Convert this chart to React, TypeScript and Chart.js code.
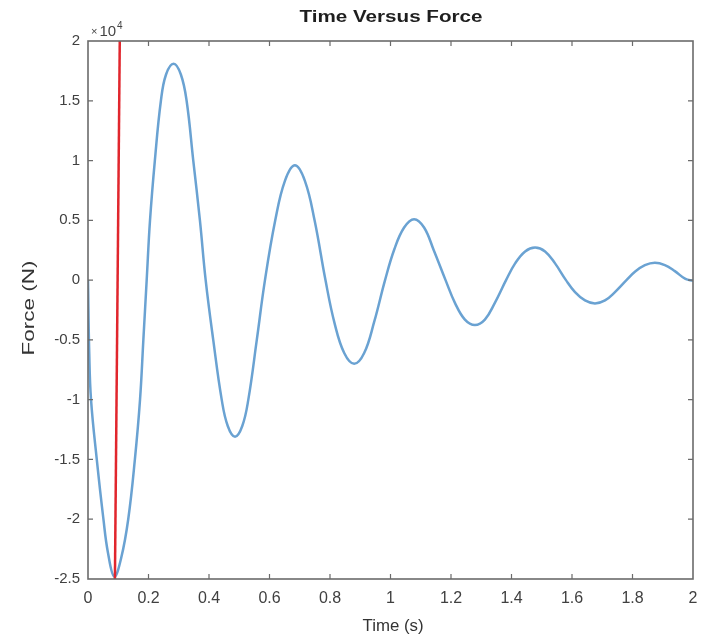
import React, { useEffect, useRef } from "react";
import { Chart, registerables } from "chart.js";

Chart.register(...registerables);

// Time (s) samples
const times = [
  0, 0.004, 0.010, 0.029, 0.051, 0.066, 0.087,
  0.110, 0.133, 0.155, 0.172, 0.183, 0.194,
  0.205, 0.221, 0.241, 0.258, 0.283, 0.307, 0.326, 0.348, 0.370, 0.389,
  0.414, 0.442, 0.462, 0.486, 0.510, 0.530, 0.558, 0.585,
  0.619, 0.651, 0.684, 0.717, 0.749, 0.785,
  0.815, 0.847, 0.880, 0.913, 0.946, 0.982,
  1.013, 1.045, 1.078, 1.111, 1.143, 1.182,
  1.213, 1.246, 1.279, 1.312, 1.345, 1.382,
  1.412, 1.445, 1.478, 1.511, 1.544, 1.580,
  1.610, 1.643, 1.676, 1.709, 1.742, 1.780,
  1.808, 1.841, 1.874, 1.907, 1.940, 1.975, 2.0,
];

// Force (N)
const forceN = [
  0, -6000, -10000, -15000, -20000, -22800, -24800,
  -23200, -20000, -15000, -10000, -5000, 0,
  5000, 10000, 15000, 17200, 18100, 17200, 15000, 10000, 5000, 0,
  -5000, -10000, -12200, -13100, -12200, -10000, -5000, 0,
  5000, 8300, 9600, 8300, 5000, 0,
  -3600, -6100, -7000, -6100, -3500, 0,
  2600, 4400, 5100, 4400, 2500, 0,
  -1900, -3300, -3750, -3300, -1900, 0,
  1400, 2400, 2730, 2400, 1400, 0,
  -1000, -1700, -1950, -1700, -1000, 0,
  700, 1250, 1450, 1250, 750, 100, -50,
];

// Red marker line
const markerTimes = [0.089, 0.105];
const markerForce = [-25000, 20000];

const xTicks = [0, 0.2, 0.4, 0.6, 0.8, 1, 1.2, 1.4, 1.6, 1.8, 2];
const yTicks = [-25000, -20000, -15000, -10000, -5000, 0, 5000, 10000, 15000, 20000];

const titleText = "Time Versus Force";
const xTitle = "Time (s)";
const yTitle = "Force (N)";

const FONT = "'Liberation Sans', Arial, Helvetica, sans-serif";

function drawStretched(
  ctx: CanvasRenderingContext2D,
  text: string,
  cx: number,
  cy: number,
  targetW: number,
  font: string,
  rotated: boolean
) {
  ctx.save();
  ctx.font = font;
  ctx.textAlign = "center";
  ctx.textBaseline = "middle";
  const w = ctx.measureText(text).width;
  ctx.translate(cx, cy);
  if (rotated) ctx.rotate(-Math.PI / 2);
  ctx.scale(targetW / w, 1);
  ctx.fillText(text, 0, 0);
  ctx.restore();
}

const decorPlugin = {
  id: "decor",
  afterDraw(chart: any) {
    const ctx: CanvasRenderingContext2D = chart.ctx;
    const { left, right, top, bottom } = chart.chartArea;
    const xs = chart.scales.x;
    const ys = chart.scales.y;
    ctx.save();
    // box
    ctx.strokeStyle = "#6b6b6b";
    ctx.lineWidth = 1.6;
    ctx.strokeRect(left, top, right - left, bottom - top);
    // inward ticks
    ctx.lineWidth = 1.2;
    const tl = 5;
    ctx.beginPath();
    xTicks.forEach((v) => {
      const px = xs.getPixelForValue(v);
      if (px <= left + 1 || px >= right - 1) return;
      ctx.moveTo(px, bottom);
      ctx.lineTo(px, bottom - tl);
      ctx.moveTo(px, top);
      ctx.lineTo(px, top + tl);
    });
    yTicks.forEach((v) => {
      const py = ys.getPixelForValue(v);
      if (py <= top + 1 || py >= bottom - 1) return;
      ctx.moveTo(left, py);
      ctx.lineTo(left + tl, py);
      ctx.moveTo(right, py);
      ctx.lineTo(right - tl, py);
    });
    ctx.stroke();

    // texts
    ctx.fillStyle = "#1e1e1e";
    drawStretched(ctx, titleText, 391, 18, 183, `bold 16px ${FONT}`, false);
    ctx.fillStyle = "#333333";
    drawStretched(ctx, xTitle, 393, 627, 61, `16px ${FONT}`, false);
    drawStretched(ctx, yTitle, 30, 308, 95, `16px ${FONT}`, true);

    // exponent  x10^4
    ctx.fillStyle = "#444444";
    ctx.textAlign = "left";
    ctx.textBaseline = "alphabetic";
    let ex = 91;
    ctx.font = `11px ${FONT}`;
    ctx.fillText("\u00d7", ex, 35);
    ex += ctx.measureText("\u00d7").width + 2;
    ctx.font = `15px ${FONT}`;
    ctx.fillText("10", ex, 36);
    ex += ctx.measureText("10").width + 1;
    ctx.font = `10px ${FONT}`;
    ctx.fillText("4", ex, 29);
    ctx.restore();
  },
};

export default function App() {
  const ref = useRef<HTMLCanvasElement | null>(null);

  useEffect(() => {
    document.body.style.margin = "0";
    const canvas = ref.current;
    if (!canvas) return;

    const curve = times.map((t, i) => ({ x: t, y: forceN[i] }));
    const marker = markerTimes.map((t, i) => ({ x: t, y: markerForce[i] }));

    const chart = new Chart(canvas, {
      type: "line",
      data: {
        datasets: [
          {
            data: marker,
            borderColor: "#e1262d",
            borderWidth: 2.5,
            pointRadius: 0,
            tension: 0,
          },
          {
            data: curve,
            borderColor: "#6aa2d2",
            borderWidth: 2.5,
            pointRadius: 0,
            tension: 0.4,
          },
        ],
      },
      options: {
        animation: false,
        responsive: false,
        devicePixelRatio: 1,
        layout: { padding: { top: 41, right: 15, left: 0, bottom: 0 } },
        plugins: {
          legend: { display: false },
          tooltip: { enabled: false },
          title: { display: false },
        },
        scales: {
          x: {
            type: "linear",
            min: 0,
            max: 2,
            grid: { display: false, drawTicks: false },
            border: { display: false },
            afterBuildTicks: (scale: any) => {
              scale.ticks = xTicks.map((v) => ({ value: v }));
            },
            afterFit: (scale: any) => {
              scale.height = 61;
            },
            ticks: {
              padding: 10,
              color: "#404040",
              font: { family: FONT, size: 16 },
              maxRotation: 0,
              autoSkip: false,
              callback: (v: any) => String(Math.round(Number(v) * 10) / 10),
            },
          },
          y: {
            type: "linear",
            min: -25000,
            max: 20000,
            grid: { display: false, drawTicks: false },
            border: { display: false },
            afterBuildTicks: (scale: any) => {
              scale.ticks = yTicks.map((v) => ({ value: v }));
            },
            afterFit: (scale: any) => {
              scale.width = 88;
            },
            ticks: {
              padding: 8,
              color: "#404040",
              font: { family: FONT, size: 15 },
              autoSkip: false,
              callback: (v: any) => String(Math.round((Number(v) / 10000) * 10) / 10),
            },
          },
        },
      },
      plugins: [decorPlugin],
    });

    return () => chart.destroy();
  }, []);

  return <canvas ref={ref} width={708} height={640} style={{ display: "block" }} />;
}
